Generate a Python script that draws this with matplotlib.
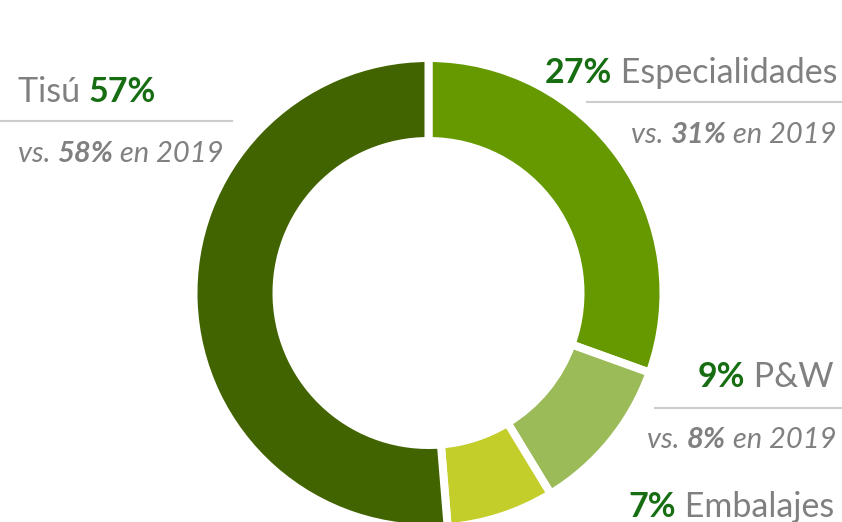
import matplotlib.pyplot as plt

# ring shares as drawn, clockwise from 12 o'clock
segments = ["Especialidades", "P&W", "Embalajes", "Tisú"]
ring_share = [30.5, 10.8, 7.4, 51.3]
ring_colors = ["#669900", "#9bbb59", "#c4ce2b", "#426400"]

# label values
share_2020 = {"Tisú": "57%", "Especialidades": "27%", "P&W": "9%", "Embalajes": "7%"}
share_2019 = {"Tisú": "58%", "Especialidades": "31%", "P&W": "8%"}

GRAY = "#808080"
GREEN = "#176e12"
LINE = "#cccccc"
FONT = "Lato"

W, H = 842, 522
fig = plt.figure(figsize=(W / 100, H / 100), dpi=100)

# donut, in pixel coordinates
axp = fig.add_axes([0, 0, 1, 1])
gap = 8
r_out, r_in = 231, 156
axp.pie(ring_share, colors=ring_colors, startangle=90, counterclock=False,
        center=(428.5, H - 293), radius=r_out + gap / 2,
        wedgeprops=dict(width=r_out - r_in + gap, edgecolor="white",
                        linewidth=gap * 0.72))
axp.set_xlim(0, W)
axp.set_ylim(0, H)
axp.set_aspect("auto")
axp.axis("off")

# text overlay, y measured from the top
ax = fig.add_axes([0, 0, 1, 1])
ax.set_xlim(0, W)
ax.set_ylim(H, 0)
ax.axis("off")
ax.patch.set_alpha(0)

renderer = fig.canvas.get_renderer()


def runs(x, y, parts, size, ha="left"):
    seq = parts if ha == "left" else parts[::-1]
    for txt, weight, style, color in seq:
        t = ax.text(x, y, txt, fontsize=size, fontweight=weight, fontstyle=style,
                    color=color, family=FONT, ha=ha, va="baseline")
        w = t.get_window_extent(renderer).width
        x = x + w if ha == "left" else x - w


BIG, SMALL = 24.5, 21


def sub_parts(val):
    return [("vs. ", "normal", "italic", GRAY), (val, "bold", "italic", GRAY),
            (" en 2019", "normal", "italic", GRAY)]


# Tisú
runs(18, 102, [("Tisú ", "normal", "normal", GRAY),
               (share_2020["Tisú"], "bold", "normal", GREEN)], BIG)
ax.plot([0, 232], [121, 121], color=LINE, lw=1.5)
runs(18, 162, sub_parts(share_2019["Tisú"]), SMALL)

# Especialidades
runs(838, 83, [(share_2020["Especialidades"], "bold", "normal", GREEN),
               (" Especialidades", "normal", "normal", GRAY)], BIG, ha="right")
ax.plot([587, W], [102, 102], color=LINE, lw=1.5)
runs(837, 143, sub_parts(share_2019["Especialidades"]), SMALL, ha="right")

# P&W
runs(834, 387, [(share_2020["P&W"], "bold", "normal", GREEN),
                (" P&W", "normal", "normal", GRAY)], BIG, ha="right")
ax.plot([655, W], [408, 408], color=LINE, lw=1.5)
runs(836, 448, sub_parts(share_2019["P&W"]), SMALL, ha="right")

# Embalajes
runs(834, 517, [(share_2020["Embalajes"], "bold", "normal", GREEN),
                (" Embalajes", "normal", "normal", GRAY)], BIG, ha="right")

fig.savefig("out.png", dpi=100)
